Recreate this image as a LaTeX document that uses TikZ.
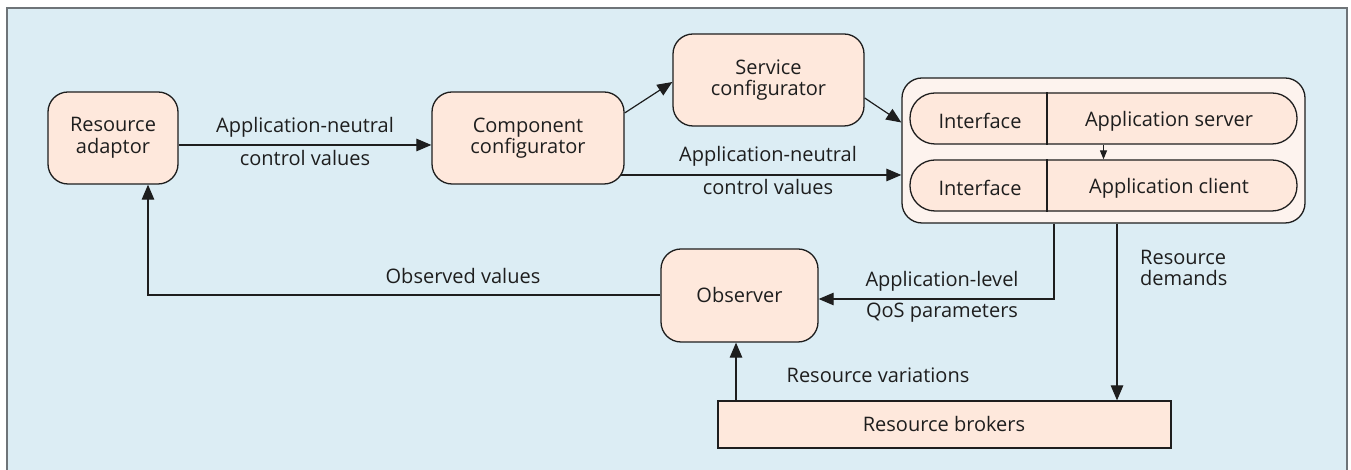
\documentclass[tikz,border=0pt]{standalone}
\usepackage{fontspec}
\setmainfont{Open Sans}
\usetikzlibrary{arrows.meta,calc}
\definecolor{bgblue}{HTML}{DCEDF4}
\definecolor{peach}{HTML}{FEE8DC}
\definecolor{lightpeach}{HTML}{FDF3EE}
\definecolor{framegray}{HTML}{6E7478}
\definecolor{ink}{HTML}{1E1E1E}
\tikzset{
  x=1pt, y=1pt,
  every node/.style={font=\fontsize{20}{21.5}\selectfont, text=ink},
  rbox/.style={draw=ink, line width=1.3pt, fill=peach, rounded corners=20pt,
    inner sep=0pt, align=center},
  arr/.style={draw=ink, line width=1.2pt, -{Triangle[length=15pt,width=12.5pt]}},
  smallarr/.style={draw=ink, line width=1.2pt, -{Triangle[length=9pt,width=7pt]}},
  lbl/.style={inner sep=0pt},
}
\begin{document}
\begin{tikzpicture}
\useasboundingbox (0,0) rectangle (1351,470);
\fill[white] (0,0) rectangle (1351,470);
\draw[framegray, line width=2.2pt, fill=bgblue] (7,-5) rectangle (1347,462);

% nodes
\node[rbox, minimum width=130pt, minimum height=92pt] (ra) at (113,332) {Resource\\adaptor};
\node[rbox, minimum width=192pt, minimum height=92pt] (cc) at (528,332) {Component\\configurator};
\node[rbox, minimum width=191pt, minimum height=92pt] (sc) at (768.5,390) {Service\\configurator};
\node[rbox, fill=lightpeach, rounded corners=20pt, minimum width=403pt, minimum height=145pt] (big) at (1103.5,319.5) {};
\node[rbox, rounded corners=25pt, minimum width=387pt, minimum height=51pt] (p1) at (1103.5,351.5) {};
\node[rbox, rounded corners=25pt, minimum width=387pt, minimum height=51pt] (p2) at (1103.5,284.5) {};
\draw[ink, line width=1.1pt] (p1.north -| 1047,0) -- (p1.south -| 1047,0);
\draw[ink, line width=1.1pt] (p2.north -| 1047,0) -- (p2.south -| 1047,0);
\node[lbl] (i1) at (980,349) {Interface};
\node[lbl] (s1) at (1169,349) {Application server};
\node[lbl] (i2) at (980,282) {Interface};
\node[lbl] (c2) at (1169,282) {Application client};
\node[rbox, minimum width=157pt, minimum height=93pt] (obs) at (739.5,174.5) {Observer};
\node[draw=ink, line width=1.3pt, fill=peach, minimum width=453pt, minimum height=47pt, inner sep=0pt] (br) at (944.5,45.5) {};
\node[lbl] (brt) at (944,45.5) {Resource brokers};

% connectors
\draw[arr] ([yshift=-7pt]ra.east) -- ([yshift=-7pt]cc.west);
\node[lbl] (l1a) at (305,343) {Application-neutral};
\node[lbl] (l1b) at (305,312) {control values};

\draw[arr] ([yshift=25pt]cc.east) -- ([yshift=-2pt]sc.west);
\draw[arr] ([yshift=-18pt]sc.east) -- ([yshift=28pt]big.west);

\draw[arr] ([xshift=-4pt,yshift=-37pt]cc.east) -- ([yshift=-24.5pt]big.west);
\node[lbl] (l2a) at (768,314) {Application-neutral};
\node[lbl] (l2b) at (768,283) {control values};

\draw[smallarr] (p1.south) -- (p2.north);

\draw[arr] ([xshift=-49.5pt]big.south) |- ([yshift=-3.5pt]obs.east);
\node[lbl] (l3a) at (942,189) {Application-level};
\node[lbl] (l3b) at (942,157) {QoS parameters};

\draw[arr] ([xshift=13.5pt]big.south) -- ([xshift=13.5pt]big.south |- br.north);
\node[lbl, anchor=west, align=left] (l4) at (1140,202) {Resource\\demands};

\draw[arr] ([xshift=-3.5pt]obs.south |- br.north) -- ([xshift=-3.5pt]obs.south);
\node[lbl] (l5) at (878,95) {Resource variations};

\draw[arr] ([yshift=0.5pt]obs.west) -| ([xshift=35pt]ra.south);
\node[lbl] (l6) at (463,194) {Observed values};
\end{tikzpicture}
\end{document}
